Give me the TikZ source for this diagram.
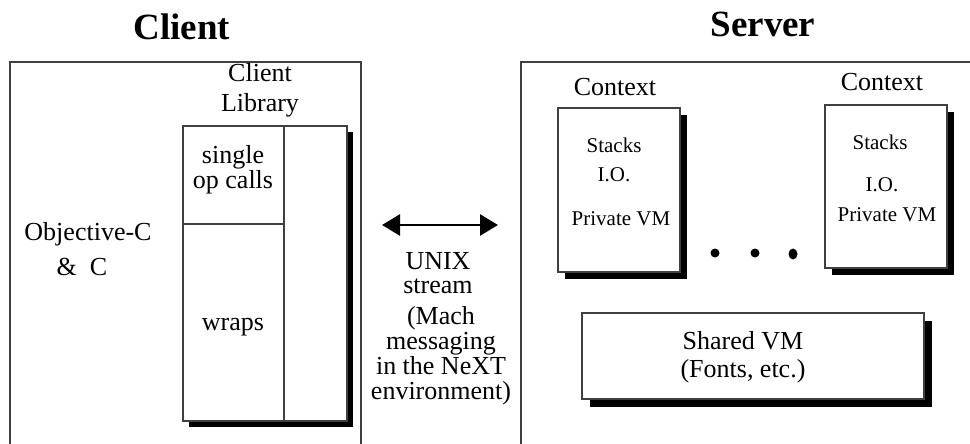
\documentclass[tikz,border=0pt]{standalone}
\usepackage{fontspec}
\setmainfont{Liberation Serif}
\usetikzlibrary{shadows,arrows.meta}
\begin{document}
\begin{tikzpicture}[x=1pt,y=-1pt,
  frame/.style={draw=black!75, line width=1.3pt},
  box/.style={frame, fill=white, inner sep=0pt,
    drop shadow={shadow xshift=#1pt, shadow yshift=-#1pt, fill=black, opacity=1}},
  box/.default=7,
  txt/.style={font=\fontsize{26}{25}\selectfont, align=center, inner sep=0pt},
  small/.style={font=\fontsize{21}{24}\selectfont, align=center, inner sep=0pt},
  ttl/.style={font=\fontsize{37}{40}\selectfont\bfseries, inner sep=0pt},
  dbl/.style={line width=2.6pt, {Triangle[length=18pt,width=21pt]}-{Triangle[length=18pt,width=21pt]}}
]
\useasboundingbox (0,0) rectangle (970,444);

% titles
\node[ttl] (tClient) at (182,27) {Client};
\node[ttl] (tServer) at (763,24) {Server};

% outer frames
\draw[frame] (10,444) -- (10,62) -- (361,62) -- (361,444);
\draw[frame] (521,444) -- (521,62) -- (970,62);

% client side
\node[txt] (objc) at (88,234) {Objective-C};
\node[txt] (andc) at (82,267) {\&\ \ C};
\node[txt, font=\fontsize{26}{30}\selectfont] (libl) at (260,90) {Client\\Library};
\node[box=6, minimum width=164pt, minimum height=295pt] (lib) at (265,273.5) {};
\draw[frame] (284,126) -- (284,421);
\draw[frame] (183,224) -- (284,224);
\node[txt] (single) at (233,170) {single\\op calls};
\node[txt] (wraps) at (233,327) {wraps};

% link
\coordinate (aL) at (382,225);
\coordinate (aR) at (498,225);
\draw[dbl] (aL) -- (aR);
\node[txt, font=\fontsize{26}{24}\selectfont] (unix) at (438,273) {UNIX\\stream};
\node[txt] (mach) at (441,356) {(Mach\\messaging\\in the NeXT\\environment)};

% server side
\node[txt] (ctxAl) at (615,87) {Context};
\node[txt] (ctxBl) at (882,82) {Context};
\node[box=7, minimum width=122pt, minimum height=164pt] (ctxA) at (619,190) {};
\node[box=7, minimum width=122pt, minimum height=163pt] (ctxB) at (886,186.5) {};
\node[small] (stA) at (614,145) {Stacks};
\node[small] (ioA) at (614,175) {I.O.};
\node[small] (pvA) at (621,219) {Private VM};
\node[small] (stB) at (880,142) {Stacks};
\node[small] (ioB) at (882,185) {I.O.};
\node[small] (pvB) at (887,215) {Private VM};

\fill (715,253) circle (4.5pt);
\fill (755,253) circle (4.5pt);
\fill (793,254) ellipse (4.5pt and 5.5pt);

\node[box=8, minimum width=342pt, minimum height=86pt] (shared) at (753,356) {};
\node[txt, font=\fontsize{26}{28}\selectfont] (sharedt) at (743,357) {Shared VM\\(Fonts, etc.)};
\end{tikzpicture}
\end{document}
